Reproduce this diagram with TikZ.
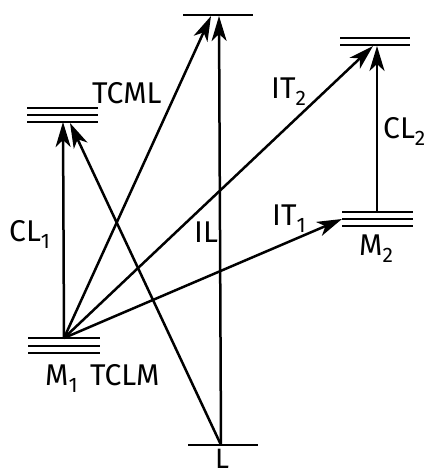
\documentclass[tikz,border=0pt]{standalone}
\usepackage{fontspec}
\setmainfont{Fira Sans}
\usetikzlibrary{arrows.meta,positioning}
\tikzset{
    lvl/.style={line width=2.4pt, black},
    trans/.style={line width=2.5pt, -{Stealth[length=25pt,width=15pt,inset=7pt]}},
    lab/.style={font=\fontsize{30}{32}\selectfont, inner sep=0pt, anchor=base west},
}
\newcommand{\lsub}[1]{\raisebox{-7pt}{\fontsize{21}{21}\selectfont #1}}

\begin{document}
\begin{tikzpicture}[x=1pt, y=-1pt]
    \useasboundingbox (0,0) rectangle (427,471);

    % energy levels
    \draw[lvl] (183,15) -- (253,15);
    \foreach \y in {108,115,122} \draw[lvl] (27,\y) -- (98,\y);
    \foreach \y in {38,45} \draw[lvl] (340,\y) -- (410,\y);
    \foreach \y in {212,219,226} \draw[lvl] (342,\y) -- (413,\y);
    \foreach \y in {338,346,353} \draw[lvl] (28,\y) -- (100,\y);
    \draw[lvl] (188,445) -- (258,445);

    % end points on the levels
    \coordinate (M1) at (64,338);
    \coordinate (M1up) at (63,122);
    \coordinate (M1upb) at (70,123);
    \coordinate (Ltop) at (211,16);
    \coordinate (Ltopb) at (219,16);
    \coordinate (Lbot) at (221,445);
    \coordinate (M2) at (377,212);
    \coordinate (M2left) at (342,219);
    \coordinate (M2up) at (373,46);
    \coordinate (M2upb) at (377,46);

    % transitions
    \draw[trans] (M1) -- (M1up);
    \draw[trans] (M1) -- (Ltop);
    \draw[trans] (M1) -- (M2up);
    \draw[trans] (M1) -- (M2left);
    \draw[trans] (Lbot) -- (M1upb);
    \draw[trans] (Lbot) -- (Ltopb);
    \draw[trans] (M2) -- (M2upb);

    % labels
    \node[lab] (cl1) at (9,241) {CL\lsub{1}};
    \node[lab] (tcml) at (92,103) {TCML};
    \node[lab] (it2) at (271,98) {IT\lsub{2}};
    \node[lab] (cl2) at (383,138) {CL\lsub{2}};
    \node[lab] (it1) at (272,225) {IT\lsub{1}};
    \node[lab] (il) at (194,242) {IL};
    \node[lab] (m2) at (359,255) {M\lsub{2}};
    \node[lab] (m1) at (45,385) {M\lsub{1}};
    \node[lab] (tclm) at (90,385) {TCLM};
    \node[lab, font=\fontsize{28}{30}\selectfont] (l) at (215,468) {L};
\end{tikzpicture}
\end{document}
